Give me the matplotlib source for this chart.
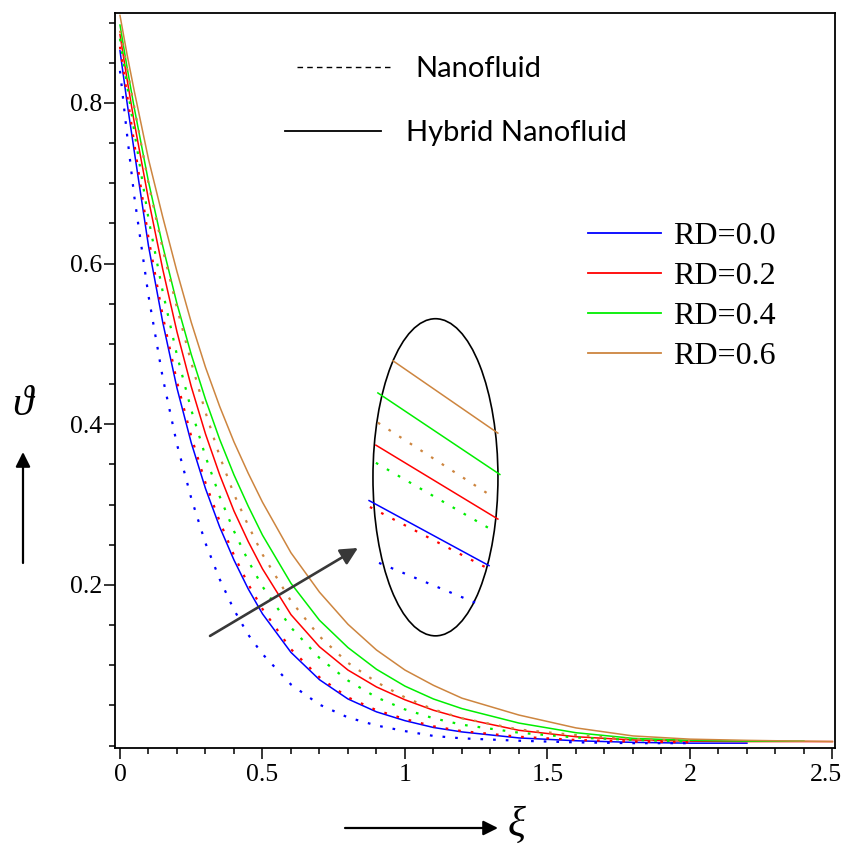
import matplotlib
matplotlib.use('Agg')
import matplotlib.pyplot as plt
import matplotlib.transforms as mtransforms
from matplotlib.lines import Line2D
from matplotlib.patches import Ellipse

# ---------------- data ----------------
xi = [0, 0.025, 0.05, 0.1, 0.15, 0.2, 0.25, 0.3, 0.35, 0.4, 0.45, 0.5,
      0.6, 0.7, 0.8, 0.9, 1.0, 1.1, 1.2, 1.4, 1.6, 1.8, 2.0, 2.2, 2.4, 2.5]

rd_labels = ["RD=0.0", "RD=0.2", "RD=0.4", "RD=0.6"]
colors = ["#0000ff", "#ff0000", "#00ee00", "#cd853f"]

# Hybrid nanofluid (solid)
hyb_rd00 = [0.865, 0.800, 0.740, 0.622, 0.527, 0.445, 0.377, 0.320, 0.272, 0.231, 0.195, 0.164,
            0.116, 0.082, 0.058, 0.042, 0.031, 0.0225, 0.017, 0.0095, 0.006, 0.004, 0.003, 0.003]
hyb_rd02 = [0.885, 0.829, 0.776, 0.680, 0.593, 0.515, 0.447, 0.388, 0.337, 0.292, 0.254, 0.220,
            0.163, 0.123, 0.094, 0.073, 0.057, 0.044, 0.034, 0.019, 0.011, 0.007, 0.0055, 0.005, 0.005, 0.005]
hyb_rd04 = [0.897, 0.844, 0.794, 0.702, 0.622, 0.550, 0.487, 0.431, 0.381, 0.337, 0.298, 0.262,
            0.202, 0.156, 0.122, 0.095, 0.074, 0.058, 0.046, 0.028, 0.016, 0.009, 0.0065, 0.0055, 0.0055]
hyb_rd06 = [0.909, 0.860, 0.815, 0.730, 0.658, 0.590, 0.527, 0.471, 0.422, 0.378, 0.339, 0.303,
            0.240, 0.191, 0.151, 0.119, 0.094, 0.075, 0.059, 0.038, 0.022, 0.012, 0.008, 0.0065, 0.0055, 0.005]

# Nanofluid (dotted)
nano_rd00 = [0.840, 0.760, 0.684, 0.560, 0.458, 0.375, 0.308, 0.252, 0.207, 0.169, 0.138, 0.114,
             0.076, 0.051, 0.035, 0.025, 0.018, 0.012, 0.009, 0.006, 0.004, 0.003, 0.003]
nano_rd02 = [0.870, 0.810, 0.750, 0.632, 0.535, 0.453, 0.385, 0.327, 0.279, 0.237, 0.201, 0.170,
             0.120, 0.085, 0.060, 0.044, 0.033, 0.024, 0.018, 0.011, 0.007, 0.005, 0.004]
nano_rd04 = [0.880, 0.822, 0.765, 0.656, 0.565, 0.486, 0.418, 0.360, 0.310, 0.267, 0.230, 0.198,
             0.147, 0.109, 0.081, 0.060, 0.045, 0.034, 0.026, 0.016, 0.010, 0.007, 0.005]
nano_rd06 = [0.890, 0.842, 0.795, 0.700, 0.618, 0.545, 0.477, 0.415, 0.360, 0.313, 0.274, 0.238,
             0.180, 0.136, 0.103, 0.079, 0.060, 0.045, 0.034, 0.020, 0.013, 0.008, 0.006]

hybrid = [hyb_rd00, hyb_rd02, hyb_rd04, hyb_rd06]
nano = [nano_rd00, nano_rd02, nano_rd04, nano_rd06]

# magnified inset segments drawn inside the ellipse (start, end) in data units
inset_hyb_x = [[0.874, 1.295], [0.898, 1.326], [0.905, 1.333], [0.958, 1.326]]
inset_hyb_y = [[0.305, 0.224], [0.374, 0.282], [0.439, 0.3375], [0.479, 0.389]]
inset_nano_x = [[0.909, 1.246], [0.877, 1.288], [0.898, 1.305], [0.905, 1.298]]
inset_nano_y = [[0.2274, 0.178], [0.297, 0.221], [0.352, 0.2685], [0.402, 0.312]]
ellipse_center = (1.107, 0.334)
ellipse_size = (0.4386, 0.3948)
arrow_start = (0.316, 0.1365)
arrow_end = (0.835, 0.246)

xticks = [0, 0.5, 1, 1.5, 2, 2.5]
xticklabels = ["0", "0.5", "1", "1.5", "2", "2.5"]
yticks = [0.2, 0.4, 0.6, 0.8]
yticklabels = ["0.2", "0.4", "0.6", "0.8"]

# ---------------- figure ----------------
W, H = 845, 850
fig = plt.figure(figsize=(W / 100, H / 100), dpi=100)
ax = fig.add_axes([115 / W, 1 - 747.5 / H, 720 / W, 734.5 / H])

serif = "Liberation Serif"
dot_style = (0, (1.2, 4.5))

for vals, c in zip(hybrid, colors):
    ax.plot(xi[:len(vals)], vals, color=c, lw=1.1, solid_joinstyle='round')
for vals, c in zip(nano, colors):
    ax.plot(xi[:len(vals)], vals, color=c, lw=1.6, ls=dot_style)

# inset
for xs, ys, c in zip(inset_hyb_x, inset_hyb_y, colors):
    ax.plot(xs, ys, color=c, lw=1.1)
for xs, ys, c in zip(inset_nano_x, inset_nano_y, colors):
    ax.plot(xs, ys, color=c, lw=1.6, ls=dot_style)
ax.add_patch(Ellipse(ellipse_center, ellipse_size[0], ellipse_size[1],
                     fill=False, edgecolor='black', lw=1.2))
ax.annotate('', xy=arrow_end, xytext=arrow_start,
            arrowprops=dict(arrowstyle='-|>', color='#383838', lw=1.9,
                            mutation_scale=26, shrinkA=0, shrinkB=0))

ax.set_xlim(-0.0175, 2.509)
ax.set_ylim(-0.0024, 0.912)
ax.set_xticks(xticks)
ax.set_xticklabels(xticklabels, fontfamily=serif, fontsize=18.5)
ax.set_yticks(yticks)
ax.set_yticklabels(yticklabels, fontfamily=serif, fontsize=18.5)
ax.set_xticks([i * 0.1 for i in range(26)], minor=True)
ax.set_yticks([i * 0.05 for i in range(19)], minor=True)
ax.tick_params(which='major', direction='out', length=8, width=1.1, pad=4)
ax.tick_params(axis='y', which='major', pad=1)
ax.tick_params(which='minor', direction='out', length=4, width=1.1)
for s in ax.spines.values():
    s.set_linewidth(1.3)
# keep the last x tick label fully inside the picture
last = ax.get_xticklabels()[-1]
last.set_transform(last.get_transform() +
                   mtransforms.ScaledTranslation(-5 / 72, 0, fig.dpi_scale_trans))

# legends: line-style key (two single-entry legends) and RD colour key
lego = dict(loc='upper left', bbox_transform=fig.transFigure, frameon=False,
            borderpad=0, borderaxespad=0)
legA = ax.legend([Line2D([], [], color='k', lw=1.0, ls=(0, (4, 3)))], ["Nanofluid"],
                 bbox_to_anchor=(297 / W, 1 - 56 / H), prop={'family': 'Lato', 'size': 21},
                 handlelength=3.2, handletextpad=0.85, **lego)
ax.add_artist(legA)
legB = ax.legend([Line2D([], [], color='k', lw=1.3)], ["Hybrid Nanofluid"],
                 bbox_to_anchor=(285 / W, 1 - 120 / H), prop={'family': 'Lato', 'size': 21},
                 handlelength=3.3, handletextpad=0.85, **lego)
ax.add_artist(legB)
h2 = [Line2D([], [], color=c, lw=1.3) for c in colors]
ax.legend(h2, rd_labels, bbox_to_anchor=(588 / W, 1 - 222 / H),
          prop={'family': serif, 'size': 23},
          handlelength=2.3, handletextpad=0.35, labelspacing=0.33, **lego)

# axis labels with arrows
fig.text(517 / W, 1 - 826 / H, "ξ", fontsize=30, family=serif, style='italic',
         ha='center', va='center')
fig.text(22 / W, 1 - 405 / H, "ϑ", fontsize=30, family=serif, style='italic',
         ha='center', va='center')
ax.annotate('', xy=(498, H - 828), xycoords='figure pixels', xytext=(345, H - 828),
            textcoords='figure pixels',
            arrowprops=dict(arrowstyle='-|>', color='k', lw=1.6, mutation_scale=22,
                            shrinkA=0, shrinkB=0))
ax.annotate('', xy=(23, H - 452), xycoords='figure pixels', xytext=(23, H - 563),
            textcoords='figure pixels',
            arrowprops=dict(arrowstyle='-|>', color='k', lw=1.6, mutation_scale=22,
                            shrinkA=0, shrinkB=0))

fig.savefig("out.png", dpi=100)
